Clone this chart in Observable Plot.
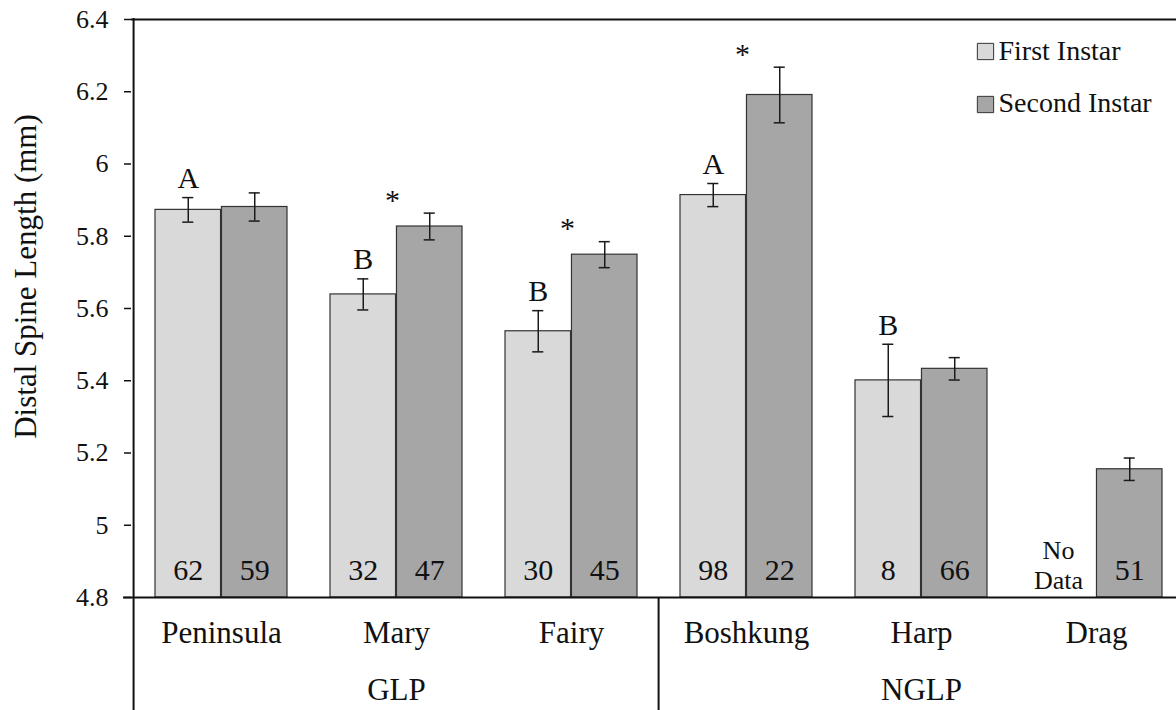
<!DOCTYPE html>
<html>
<head>
<meta charset="utf-8">
<script src="https://cdn.jsdelivr.net/npm/d3@7"></script>
<script src="https://cdn.jsdelivr.net/npm/@observablehq/plot@0.6"></script>
<style>
  html, body { margin: 0; padding: 0; background: #fff; }
  #chart svg { display: block; }
  #chart svg, #chart svg text { font-family: "Liberation Serif", "Times New Roman", serif !important; font-variant-numeric: normal !important; }
</style>
</head>
<body>
<div id="chart"></div>
<script>
// ---- data ----
const lakes = ["Peninsula", "Mary", "Fairy", "Boshkung", "Harp", "Drag"];
const groupOf = ["GLP", "GLP", "GLP", "NGLP", "NGLP", "NGLP"];
const groupLabels = ["GLP", "NGLP"];
const groupCenters = ["Mary", "Harp"];
const firstMean = [5.873, 5.639, 5.537, 5.914, 5.401, null];
const firstSE = [0.034, 0.043, 0.057, 0.032, 0.100, null];
const secondMean = [5.881, 5.827, 5.749, 6.191, 5.433, 5.155];
const secondSE = [0.039, 0.037, 0.036, 0.077, 0.031, 0.031];
const firstN = [62, 32, 30, 98, 8, null];
const secondN = [59, 47, 45, 22, 66, 51];
const letters = ["A", "B", "B", "A", "B", ""];
const stars = [false, true, true, true, false, false];
const yTicks = [4.8, 5, 5.2, 5.4, 5.6, 5.8, 6, 6.2, 6.4];
const seriesNames = ["First Instar", "Second Instar"];
const yLabel = "Distal Spine Length (mm)";

// ---- layout / style ----
const colFirst = "#d9d9d9", colSecond = "#a6a6a6";
const barStroke = "#333", errStroke = "#1a1a1a", ink = "#111";
const W = 1176, H = 710, ML = 131, MT = 19, MB = 113;
const xRange = [131, 1186];
const pIn = 0.244, pOut = 0.122;
const step = (xRange[1] - xRange[0]) / 6;
const bw = step * (1 - pIn);
const half = bw / 2, quarter = bw / 4, cap = 6;

const rows = lakes.map((lake, i) => ({
  lake, group: groupOf[i],
  m1: firstMean[i], s1: firstSE[i], n1: firstN[i],
  m2: secondMean[i], s2: secondSE[i], n2: secondN[i],
  letter: letters[i], star: stars[i]
}));
const first = rows.filter(d => d.m1 != null);
const noData = rows.filter(d => d.m1 == null);

const font = '"Liberation Serif", "Times New Roman", serif';
const T = { fontFamily: font, fill: ink };

const chart = Plot.plot({
  width: W, height: H,
  marginLeft: ML, marginRight: 0, marginTop: MT, marginBottom: MB,
  style: { fontFamily: font, color: ink, background: "#fff" },
  x: { type: "band", domain: lakes, range: xRange, paddingInner: pIn, paddingOuter: pOut, axis: null },
  y: { domain: [4.8, 6.4], axis: null },
  marks: [
    // bars
    Plot.barY(first, { x: "lake", y1: () => 4.8, y2: "m1", insetRight: half, fill: colFirst, stroke: barStroke, strokeWidth: 1.2 }),
    Plot.barY(rows, { x: "lake", y1: () => 4.8, y2: "m2", insetLeft: half, fill: colSecond, stroke: barStroke, strokeWidth: 1.2 }),
    // error bars
    Plot.ruleX(first, { x: "lake", y1: d => d.m1 - d.s1, y2: d => d.m1 + d.s1, dx: -quarter, stroke: errStroke, strokeWidth: 1.5 }),
    Plot.ruleX(rows, { x: "lake", y1: d => d.m2 - d.s2, y2: d => d.m2 + d.s2, dx: quarter, stroke: errStroke, strokeWidth: 1.5 }),
    Plot.tickY(first, { x: "lake", y: d => d.m1 + d.s1, insetLeft: quarter - cap, insetRight: bw - quarter - cap, stroke: errStroke, strokeWidth: 1.5 }),
    Plot.tickY(first, { x: "lake", y: d => d.m1 - d.s1, insetLeft: quarter - cap, insetRight: bw - quarter - cap, stroke: errStroke, strokeWidth: 1.5 }),
    Plot.tickY(rows, { x: "lake", y: d => d.m2 + d.s2, insetLeft: bw - quarter - cap, insetRight: quarter - cap, stroke: errStroke, strokeWidth: 1.5 }),
    Plot.tickY(rows, { x: "lake", y: d => d.m2 - d.s2, insetLeft: bw - quarter - cap, insetRight: quarter - cap, stroke: errStroke, strokeWidth: 1.5 }),
    // n labels
    Plot.text(first, { ...T, x: "lake", y: () => 4.8, text: d => String(d.n1), dx: -quarter, dy: -27, fontSize: 30 }),
    Plot.text(rows, { ...T, x: "lake", y: () => 4.8, text: d => String(d.n2), dx: quarter, dy: -27, fontSize: 30 }),
    Plot.text(noData, { ...T, x: "lake", y: () => 4.8, text: () => "No\nData", dx: -38, dy: -33, fontSize: 26, lineHeight: 1.15 }),
    // significance letters & stars
    Plot.text(first.filter(d => d.letter), { ...T, x: "lake", y: d => d.m1 + d.s1, text: "letter", dx: -quarter, dy: -19, fontSize: 30 }),
    Plot.text(rows.filter(d => d.star), { ...T, x: "lake", y: d => d.m2 + d.s2, text: () => "*", dx: -4, dy: -13, fontSize: 30 }),
    // frame lines
    Plot.ruleY([6.4], { stroke: ink, strokeWidth: 2 }),
    Plot.ruleY([4.8], { stroke: ink, strokeWidth: 2, insetLeft: -8 }),
    Plot.ruleX([lakes[0]], { dx: -step / 2, stroke: ink, strokeWidth: 2, insetTop: -1, insetBottom: -MB }),
    Plot.ruleX([lakes[3]], { dx: -step / 2, stroke: ink, strokeWidth: 2, insetTop: (H - MB - MT), insetBottom: -MB }),
    // y axis
    Plot.axisY(yTicks, { tickSize: 7, tickPadding: 16, fontSize: 26, fontFamily: font, tickFormat: d => String(d), stroke: ink, strokeWidth: 1.5, label: null }),
    Plot.text([yLabel], { ...T, frameAnchor: "left", textAnchor: "middle", lineAnchor: "middle", rotate: -90, dx: -105, dy: -32, fontSize: 31 }),
    // category & group labels
    Plot.text(lakes, { ...T, x: d => d, y: () => 4.8, text: d => d, dy: 36, fontSize: 31 }),
    Plot.text(groupLabels, { ...T, x: (d, i) => groupCenters[i], y: () => 4.8, text: d => d, dy: 93, fontSize: 31 }),
    // legend
    Plot.dot([seriesNames[0]], { frameAnchor: "top-right", dx: -191, dy: 32, symbol: "square", r: 9.2, fill: colFirst, stroke: barStroke, strokeWidth: 1 }),
    Plot.dot([seriesNames[1]], { frameAnchor: "top-right", dx: -191, dy: 85, symbol: "square", r: 9.2, fill: colSecond, stroke: barStroke, strokeWidth: 1 }),
    Plot.text([seriesNames[0]], { ...T, frameAnchor: "top-right", text: d => d, textAnchor: "start", lineAnchor: "middle", dx: -178, dy: 32, fontSize: 28 }),
    Plot.text([seriesNames[1]], { ...T, frameAnchor: "top-right", text: d => d, textAnchor: "start", lineAnchor: "middle", dx: -178, dy: 84, fontSize: 28 })
  ]
});
document.getElementById("chart").appendChild(chart);
</script>
</body>
</html>
